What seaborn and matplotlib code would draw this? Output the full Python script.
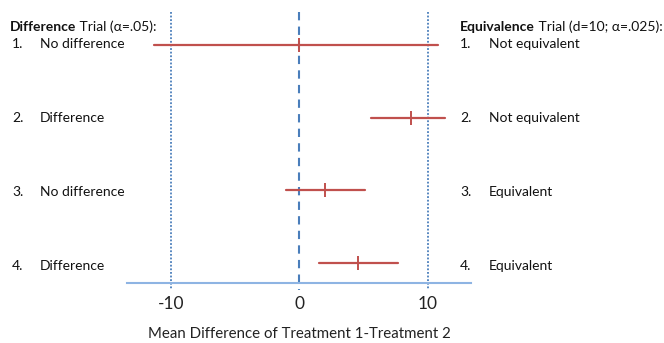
import matplotlib
matplotlib.use("Agg")
import matplotlib.pyplot as plt
import numpy as np
import pandas as pd
import seaborn as sns

# estimated intervals for the four example trials (rows top to bottom)
rows = [0, 1, 2, 3]
means = [0.0, 8.7, 2.0, 4.6]
lows = [-11.3, 5.6, -1.0, 1.5]
highs = [10.8, 11.3, 5.1, 7.7]
margin = 10
diff_labels = ["No difference", "Difference", "No difference", "Difference"]
equiv_labels = ["Not equivalent", "Not equivalent", "Equivalent", "Equivalent"]
xticks = [-10, 0, 10]

RED = "#c0504d"
BLUE = "#4a7ebb"
AXBLUE = "#8eb4e3"
W, H = 664, 343

sns.set_theme(style="white")
plt.rcParams["font.family"] = ["Lato", "DejaVu Sans"]

fig = plt.figure(figsize=(W / 100, H / 100), dpi=100)
ax = fig.add_axes([127 / W, 1 - 283.3 / H, (471 - 127) / W, (283.3 - 12) / H])

ci = pd.DataFrame({
    "x": lows + highs,
    "row": rows + rows,
})
sns.lineplot(data=ci, x="x", y="row", units="row", estimator=None,
             color=RED, linewidth=1.6, sort=False, ax=ax, legend=False)
sns.scatterplot(x=means, y=rows, marker="|", s=90, color=RED,
                linewidth=1.4, ax=ax, zorder=5, legend=False)

ax.set_xlim(-13.41, 13.36)
ax.set_ylim(3.28, -0.454)
ax.vlines([-margin, margin], -0.454, 3.37, colors=BLUE, linestyles=(0, (1, 1)),
          linewidth=1.3, clip_on=False, zorder=1)
ax.vlines([0], -0.454, 3.37, colors=BLUE, linestyles=(0, (4, 3)),
          linewidth=1.5, clip_on=False, zorder=1)

for s in ["top", "left", "right"]:
    ax.spines[s].set_visible(False)
ax.spines["bottom"].set_color(AXBLUE)
ax.spines["bottom"].set_linewidth(1.5)
ax.set_yticks([])
ax.set_xticks(xticks)
ax.set_xticklabels([str(t) for t in xticks], fontsize=12.5, color="#222222")
ax.tick_params(axis="x", length=0, pad=9)
ax.set_xlabel("Mean Difference of Treatment 1-Treatment 2", fontsize=10.8,
              color="#222222", labelpad=11)
ax.set_ylabel("")


def px(x, y):
    return x / W, 1 - y / H


text_y = [44, 118, 192, 266.5]
fs = 10
hdr = fig.text(*px(10, 27), "Difference", fontsize=fs, fontweight="bold",
               va="center", color="#111111")
ax.annotate(" Trial (α=.05):", xy=(1, 0), xycoords=hdr, va="bottom",
            fontsize=fs, color="#111111")
hdr2 = fig.text(*px(460, 27), "Equivalence", fontsize=fs, fontweight="bold",
                va="center", color="#111111")
ax.annotate(" Trial (d=10; α=.025):", xy=(1, 0), xycoords=hdr2, va="bottom",
            fontsize=fs, color="#111111")

for i, (ty, dl, el) in enumerate(zip(text_y, diff_labels, equiv_labels)):
    fig.text(*px(12, ty), f"{i + 1}.", fontsize=fs, va="center", color="#111111")
    fig.text(*px(40, ty), dl, fontsize=fs, va="center", color="#111111")
    fig.text(*px(460, ty), f"{i + 1}.", fontsize=fs, va="center", color="#111111")
    fig.text(*px(489, ty), el, fontsize=fs, va="center", color="#111111")

fig.savefig("out.png", dpi=100, facecolor="white")
